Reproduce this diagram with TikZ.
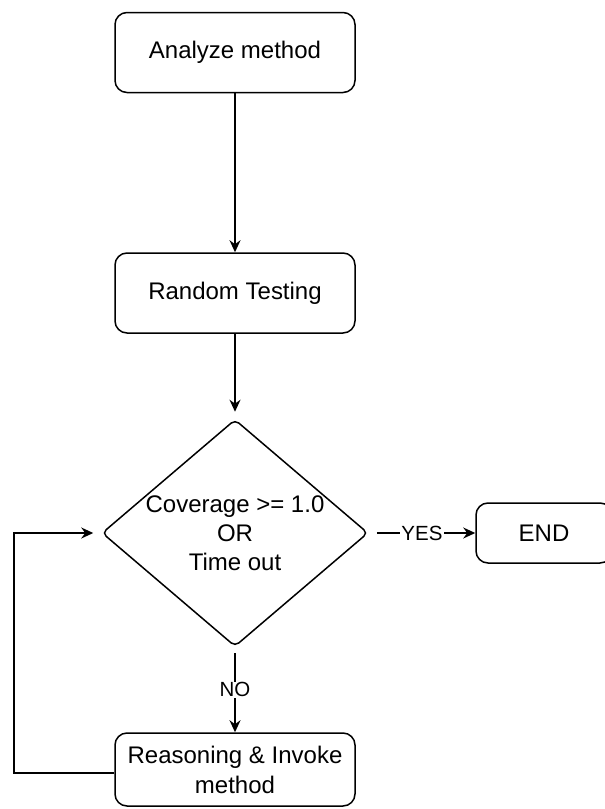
\documentclass[tikz,border=0pt]{standalone}
\usepackage{fontspec}
\setmainfont{Liberation Sans}
\usetikzlibrary{shapes.geometric,arrows.meta}

\begin{document}
\begin{tikzpicture}[x=1pt,y=-1pt,
  box/.style={draw,line width=1.5pt,rounded corners=12pt,minimum width=240pt,minimum height=80pt,align=center,font=\fontsize{24}{30}\selectfont},
  decision/.style={draw,diamond,line width=1.5pt,rounded corners=5pt,minimum width=266pt,minimum height=227pt,inner sep=0pt},
  lbl/.style={fill=white,inner sep=1pt,font=\fontsize{20.5}{24}\selectfont},
  flow/.style={-{Stealth[length=12pt,width=11pt]},line width=1.5pt}]
\useasboundingbox (0,0) rectangle (605,809);

\node[box] (analyze) at (235,52.5) {Analyze method};
\node[box] (random) at (235,293) {Random Testing};
\node[decision] (cond) at (235,533) {};
\node[align=center,font=\fontsize{24}{29}\selectfont] (cond-text) at (cond.center) {Coverage >= 1.0\\OR\\Time out};
\node[box,minimum width=136pt,minimum height=60pt] (end) at (544,533) {END};
\node[box,minimum height=73pt] (reason) at (235,769.5) {Reasoning \& Invoke\\method};
\coordinate (back) at (14,773);

\path[flow] (analyze) edge (random);
\path[flow] (random) edge[shorten >=7pt] (cond);
\path[flow] (cond) edge[shorten <=8pt] node[lbl] {YES} (end);
\path[flow] (cond) edge[shorten <=6pt] node[lbl] {NO} (reason);
\draw[flow,shorten >=8pt] (reason.west |- back) -- (back) |- (cond.west);
\end{tikzpicture}
\end{document}
